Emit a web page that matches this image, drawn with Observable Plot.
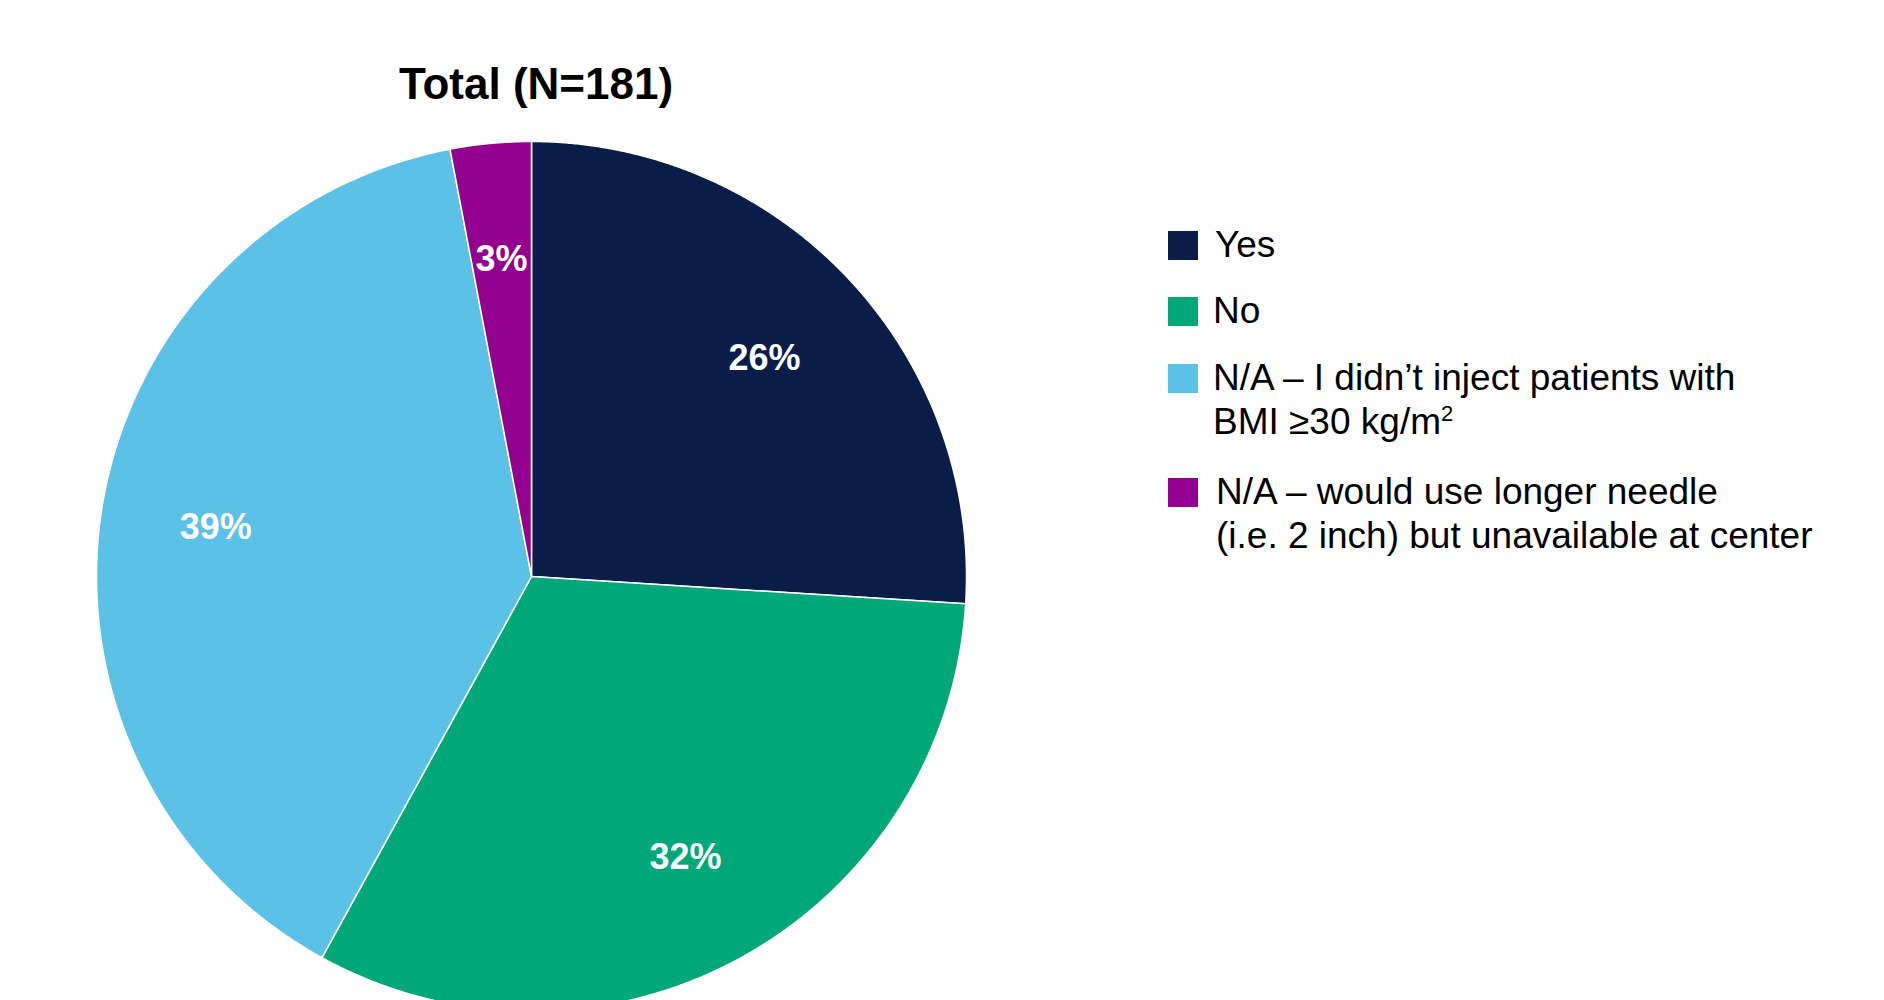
<!DOCTYPE html>
<html>
<head>
<meta charset="utf-8">
<script src="https://cdn.jsdelivr.net/npm/d3@7"></script>
<script src="https://cdn.jsdelivr.net/npm/@observablehq/plot@0.6"></script>
<style>
  html, body { margin: 0; padding: 0; background: #ffffff; }
  body { font-family: "Liberation Sans", Arial, Helvetica, sans-serif; color: #000; }
  #wrap { position: relative; width: 1884px; height: 1000px; overflow: hidden; background: #fff; }
  #title { position: absolute; left: 331px; width: 410px; top: 62px; text-align: center;
           font-weight: bold; font-size: 44px; line-height: 44px; white-space: nowrap; }
  #chart { position: absolute; left: 0; top: 0; }
  .sw { position: absolute; left: 1168px; width: 30px; height: 29px; }
  .lt { position: absolute; font-size: 37px; line-height: 44px; white-space: nowrap; color: #000; }
  sup { font-size: 22px; line-height: 0; vertical-align: 13px; }
</style>
</head>
<body>
<div id="wrap">
  <div id="title">Total (N=181)</div>
  <div id="chart"></div>
  <div id="legend"></div>
</div>
<script>
// ---- data ----
const categories = [
  "Yes",
  "No",
  "N/A – I didn’t inject patients with BMI ≥30 kg/m2",
  "N/A – would use longer needle (i.e. 2 inch) but unavailable at center"
];
const legendLabels = [
  "Yes",
  "No",
  "N/A – I didn’t inject patients with<br>BMI ≥30 kg/m<sup>2</sup>",
  "N/A – would use longer needle<br>(i.e. 2 inch) but unavailable at center"
];
const percents = [26, 32, 39, 3];
const colors = ["#0a1d48", "#00a779", "#5bc1e6", "#93008f"];

// ---- build slices with d3.pie ----
const table = categories.map((c, i) => ({category: c, value: percents[i]}));
const arcs = d3.pie().sort(null).value(d => d.value).startAngle(0).endAngle(2 * Math.PI)(table);

const pts = [];
arcs.forEach(a => {
  const key = a.data.category;
  pts.push({key, x: 0, y: 0});
  const n = Math.max(2, Math.ceil((a.endAngle - a.startAngle) / (Math.PI / 720)));
  for (let k = 0; k <= n; k++) {
    const t = a.startAngle + (a.endAngle - a.startAngle) * k / n;
    pts.push({key, x: Math.sin(t), y: Math.cos(t)});
  }
});

const labelR = 0.735;
const labels = arcs.map(a => {
  const m = (a.startAngle + a.endAngle) / 2;
  return {text: a.data.value + "%", x: labelR * Math.sin(m), y: labelR * Math.cos(m)};
});

const cx = 531, cy = 576, R = 435;
const plot = Plot.plot({
  width: 1100,
  height: 1015,
  margin: 0,
  x: {domain: [-1, 1], range: [cx - R, cx + R], axis: null},
  y: {domain: [-1, 1], range: [cy + R, cy - R], axis: null},
  color: {domain: categories, range: colors},
  style: {background: "transparent", fontFamily: "Liberation Sans, Arial, sans-serif"},
  marks: [
    Plot.line(pts, {x: "x", y: "y", z: "key", fill: "key", stroke: "#ffffff",
                    strokeWidth: 1.5, strokeLinejoin: "round", curve: "linear-closed"}),
    Plot.text(labels, {x: "x", y: "y", text: "text", fill: "#ffffff",
                       fontWeight: "bold", fontSize: 36, textAnchor: "middle", dy: 1})
  ]
});
document.getElementById("chart").appendChild(plot);

// ---- legend ----
const rowTops = [222.6, 289, 355.6, 469.6];
const textLeft = [1215, 1213, 1213, 1216];
const legend = document.getElementById("legend");
categories.forEach((c, i) => {
  const sw = document.createElement("div");
  sw.className = "sw";
  sw.style.top = (rowTops[i] + 34.85 - 26.5) + "px";
  sw.style.background = colors[i];
  legend.appendChild(sw);
  const t = document.createElement("div");
  t.className = "lt";
  t.style.left = textLeft[i] + "px";
  t.style.top = rowTops[i] + "px";
  t.innerHTML = legendLabels[i];
  legend.appendChild(t);
});
</script>
</body>
</html>
